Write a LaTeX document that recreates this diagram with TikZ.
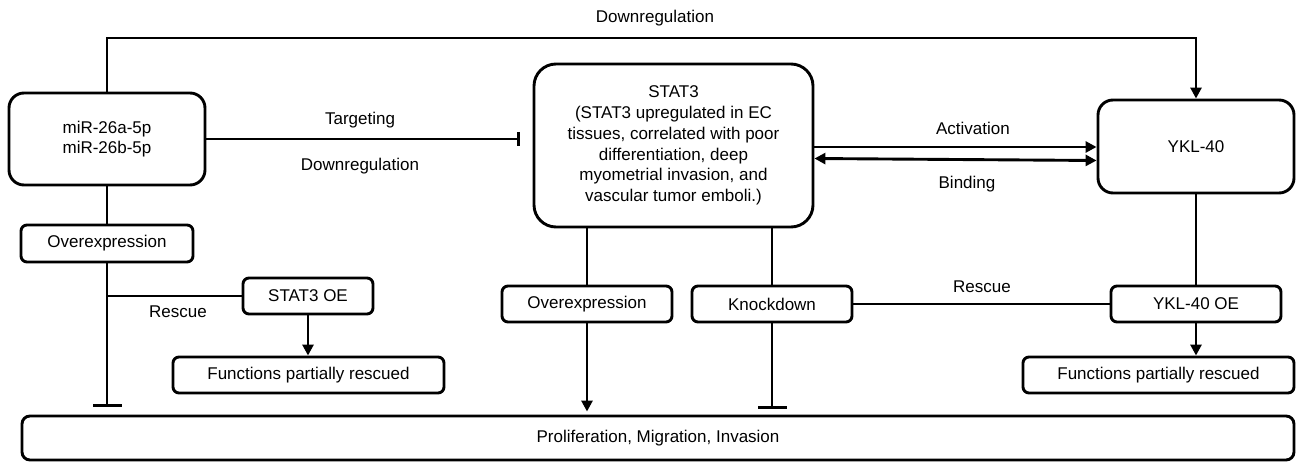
\documentclass[tikz,border=0pt]{standalone}
\usepackage{fontspec}
\setmainfont{Liberation Sans}
\usetikzlibrary{arrows.meta}
\begin{document}
\begin{tikzpicture}[x=1pt,y=-1pt,
  every node/.style={font=\fontsize{17}{20.7}\selectfont},
  box/.style={draw,line width=2.9pt,inner sep=0pt,align=center,rounded corners=#1},
  box/.default=6pt,
  lbl/.style={inner sep=0pt},
  conn/.style={line width=2.9pt},
  arr/.style={conn,-{Triangle[length=11pt,width=11pt]}},
  arrboth/.style={conn,{Triangle[length=11pt,width=11pt]}-{Triangle[length=11pt,width=11pt]}},
  inh/.style={conn,-{Bar[width=#1,line width=2.9pt]}},
  inh/.default=29pt]
\useasboundingbox (0,0) rectangle (1296,462);
% nodes
\node[box=15pt,minimum width=196pt,minimum height=92pt] (mir) at (107,139) {miR-26a-5p\\miR-26b-5p};
\node[box=22pt,minimum width=279pt,minimum height=163pt] (stat3) at (673.5,145.5)
  {STAT3\\(STAT3 upregulated in EC\\tissues, correlated with poor\\differentiation, deep\\myometrial invasion, and\\vascular tumor emboli.)};
\node[box=15pt,minimum width=196pt,minimum height=93pt] (ykl) at (1196,146.5) {YKL-40};
\node[box,minimum width=172pt,minimum height=37pt] (ovL) at (107,243.5) {Overexpression};
\node[box,minimum width=130pt,minimum height=36pt] (s3oe) at (308,296) {STAT3 OE};
\node[box,minimum width=271pt,minimum height=36pt] (funcL) at (308.5,375) {Functions partially rescued};
\node[box,minimum width=170pt,minimum height=36pt] (ovM) at (587,304) {Overexpression};
\node[box,minimum width=160pt,minimum height=36pt] (kd) at (772,304) {Knockdown};
\node[box,minimum width=170pt,minimum height=36pt] (yoe) at (1196,304) {YKL-40 OE};
\node[box,minimum width=271pt,minimum height=36pt] (funcR) at (1158.5,375) {Functions partially rescued};
\node[box=8pt,minimum width=1272pt,minimum height=44pt] (bot) at (658,438) {Proliferation, Migration, Invasion};
% helper coordinates
\coordinate (top) at (0,38);
\coordinate (tgt) at (520,139);
\coordinate (barL) at (0,407);
\coordinate (barK) at (0,409);
% labels
\node[lbl] (lDown) at (655,18) {Downregulation};
\node[lbl] (lTarg) at (360,120) {Targeting};
\node[lbl] (lDown2) at (360,166) {Downregulation};
\node[lbl] (lAct) at (973,128) {Activation};
\node[lbl] (lBind) at (967,184) {Binding};
\node[lbl] (lResL) at (178,312) {Rescue};
\node[lbl] (lResR) at (982,287) {Rescue};
% connectors
\draw[arr] (mir.north) -- (mir.north |- top) -| (ykl.north);
\draw[inh=14pt] (mir.east) -- (tgt);
\draw[arr] ([yshift=-1.5pt]stat3.east) -- ([yshift=-0.5pt]ykl.west);
\draw[arrboth] ([yshift=-13pt]stat3.east) -- ([yshift=-14pt]ykl.west);
\draw[conn] (mir.south) -- (ovL.north);
\draw[inh] (ovL.south) -- (ovL.south |- barL);
\draw[conn] (ovL.south |- s3oe.west) -- (s3oe.west);
\draw[arr] (s3oe.south) -- (s3oe.south |- funcL.north);
\draw[conn] (ovM.north |- stat3.south) -- (ovM.north);
\draw[conn] (kd.north |- stat3.south) -- (kd.north);
\draw[arr] (ovM.south) -- ([yshift=3pt]ovM.south |- bot.north);
\draw[inh] (kd.south) -- (kd.south |- barK);
\draw[conn] (kd.east) -- (yoe.west);
\draw[conn] (ykl.south) -- (yoe.north);
\draw[arr] (yoe.south) -- (yoe.south |- funcR.north);
\end{tikzpicture}
\end{document}
